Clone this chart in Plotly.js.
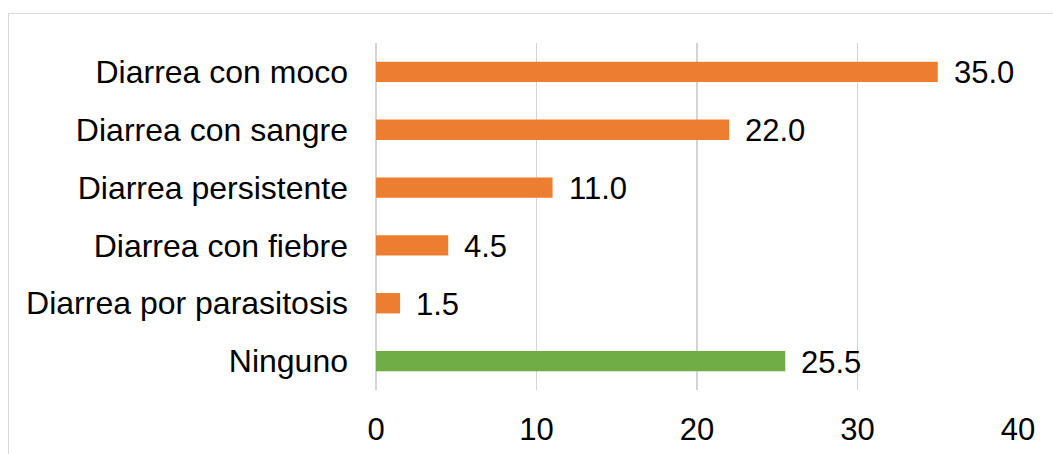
<!DOCTYPE html>
<html>
<head>
<meta charset="utf-8">
<script src="https://cdn.plot.ly/plotly-3.0.1.min.js"></script>
<style>
  html, body { margin: 0; padding: 0; background: #fff; }
  #wrap { position: relative; width: 1053px; height: 454px; overflow: hidden; }
  #frame { position: absolute; left: 8px; top: 13px; width: 1100px; height: 500px;
           border-left: 1px solid #d9d9d9; border-top: 1px solid #d9d9d9; pointer-events: none; }
  #chart { position: absolute; left: 0; top: 0; width: 1053px; height: 454px; }
</style>
</head>
<body>
<div id="wrap">
  <div id="chart"></div>
  <div id="frame"></div>
</div>
<script>
const categories = [
  "Diarrea con moco",
  "Diarrea con sangre",
  "Diarrea persistente",
  "Diarrea con fiebre",
  "Diarrea por parasitosis",
  "Ninguno"
];
const values = [35.0, 22.0, 11.0, 4.5, 1.5, 25.5];
const xTicks = [0, 10, 20, 30, 40];

const ORANGE = "#ED7D31";
const GREEN = "#70AD47";
const FONT = "Liberation Sans, Arial, sans-serif";

const colors = categories.map(c => c === "Ninguno" ? GREEN : ORANGE);

const trace = {
  type: "bar",
  orientation: "h",
  x: values,
  y: categories,
  marker: { color: colors },
  hoverinfo: "none"
};

const annotations = categories.map((c, i) => ({
  x: values[i],
  y: c,
  xref: "x",
  yref: "y",
  text: values[i].toFixed(1),
  showarrow: false,
  xanchor: "left",
  yanchor: "middle",
  xshift: 14,
  yshift: -1,
  font: { family: FONT, size: 31, color: "#000" }
}));

const layout = {
  width: 1053,
  height: 454,
  margin: { l: 376, r: 35, t: 43, b: 64 },
  paper_bgcolor: "rgba(0,0,0,0)",
  plot_bgcolor: "rgba(0,0,0,0)",
  showlegend: false,
  bargap: 0.647,
  xaxis: {
    range: [0, 40],
    tickvals: xTicks,
    ticktext: xTicks.map(String),
    showgrid: true,
    gridcolor: "#d4d4d4",
    gridwidth: 1.2,
    zeroline: true,
    zerolinecolor: "#d4d4d4",
    zerolinewidth: 1.2,
    showline: false,
    ticks: "",
    ticklabelstandoff: 18,
    tickfont: { family: FONT, size: 31, color: "#000" },
    fixedrange: true
  },
  yaxis: {
    autorange: "reversed",
    showgrid: false,
    zeroline: false,
    showline: false,
    ticks: "",
    ticklabelstandoff: 27,
    tickfont: { family: FONT, size: 32, color: "#000" },
    fixedrange: true
  },
  annotations: annotations
};

Plotly.newPlot("chart", [trace], layout, { staticPlot: true, displayModeBar: false });
</script>
</body>
</html>
